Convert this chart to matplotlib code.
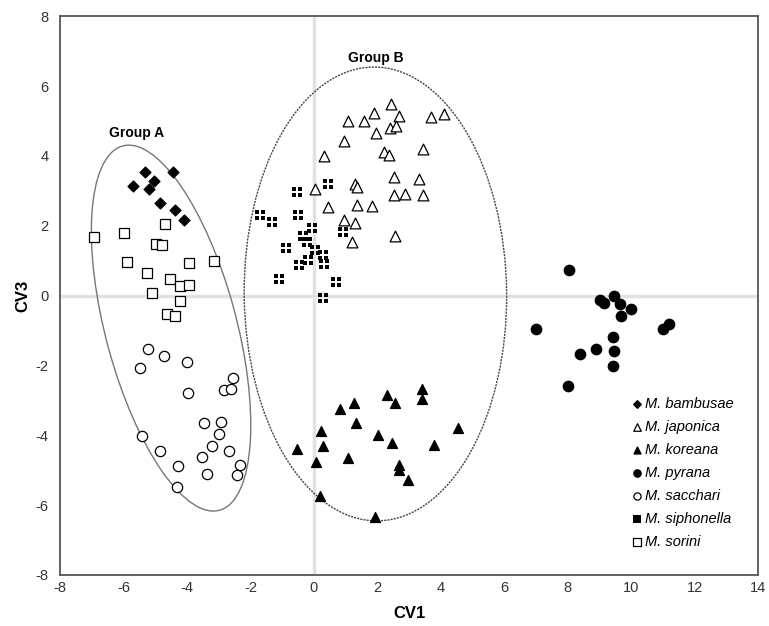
import numpy as np
import matplotlib
matplotlib.use('Agg')
import matplotlib.pyplot as plt
from matplotlib.patches import Ellipse
from matplotlib.path import Path
from matplotlib.transforms import Affine2D

plt.rcParams['font.family'] = ['Liberation Sans', 'DejaVu Sans']
plt.rcParams['axes.unicode_minus'] = False

# canonical scores (CV1, CV3)
bambusae_x = [-5.32, -4.43, -5.69, -5.04, -5.20, -4.85, -4.38, -4.09]
bambusae_y = [3.53, 3.53, 3.15, 3.29, 3.04, 2.66, 2.45, 2.16]

japonica_x = [2.43, 1.89, 2.68, 1.59, 1.06, 3.70, 4.11, 2.41, 2.59, 1.96,
              0.96, 2.21, 2.38, 3.45, 0.31, 2.53, 3.30, 1.28, 1.35, 0.05,
              2.53, 2.87, 3.45, 0.44, 1.35, 1.84, 0.95, 1.28, 1.20, 2.56]
japonica_y = [5.49, 5.22, 5.14, 5.01, 5.01, 5.11, 5.19, 4.79, 4.86, 4.67,
              4.44, 4.12, 4.02, 4.19, 3.99, 3.40, 3.33, 3.19, 3.10, 3.05,
              2.87, 2.91, 2.87, 2.53, 2.60, 2.58, 2.16, 2.09, 1.53, 1.70]

koreana_x = [3.42, 3.42, 2.30, 2.56, 1.25, 0.83, 1.33, 4.53, 0.22, 2.03, 2.46,
             3.77, -0.54, 0.28, 1.09, 0.06, 2.69, 2.69, 2.98, 0.20, 1.93]
koreana_y = [-2.66, -2.95, -2.85, -3.07, -3.07, -3.26, -3.66, -3.78, -3.88, -3.98, -4.22,
             -4.28, -4.38, -4.31, -4.64, -4.76, -4.86, -5.00, -5.27, -5.74, -6.34]

pyrana_x = [8.05, 7.00, 9.13, 9.00, 9.47, 9.63, 10.00, 9.69, 10.99, 11.20,
            9.43, 8.38, 8.88, 9.45, 9.43, 8.00]
pyrana_y = [0.73, -0.96, -0.22, -0.12, -0.01, -0.24, -0.39, -0.58, -0.97, -0.82,
            -1.18, -1.66, -1.54, -1.58, -2.01, -2.59]

sacchari_x = [-5.24, -4.73, -5.48, -4.01, -3.98, -2.54, -2.83, -2.61, -3.45, -2.94, -3.00,
              -3.22, -2.67, -3.53, -5.43, -4.85, -4.28, -3.36, -2.33, -2.41, -4.31]
sacchari_y = [-1.53, -1.72, -2.07, -1.91, -2.80, -2.37, -2.69, -2.66, -3.64, -3.62, -3.97,
              -4.30, -4.46, -4.63, -4.03, -4.44, -4.89, -5.12, -4.86, -5.14, -5.48]

siphonella_x = [0.44, -0.52, -1.70, -1.31, -0.49, -0.07, -0.35, -0.22, -0.88,
                0.05, 0.28, -0.17, -0.46, 0.33, 0.93, -1.11, 0.69, 0.28]
siphonella_y = [3.19, 2.97, 2.30, 2.11, 2.31, 1.93, 1.71, 1.54, 1.35,
                1.30, 1.16, 1.02, 0.87, 0.92, 1.83, 0.47, 0.39, -0.08]

sorini_x = [-4.69, -6.92, -5.98, -4.96, -4.77, -5.90, -3.93, -3.16,
            -5.27, -4.53, -4.22, -3.93, -5.09, -4.22, -4.62, -4.38]
sorini_y = [2.04, 1.67, 1.78, 1.48, 1.45, 0.95, 0.94, 0.99,
            0.66, 0.48, 0.28, 0.30, 0.08, -0.15, -0.54, -0.59]

# group ellipses: centre, width, height, angle (data units)
group_a = ((-4.50, -0.93), 4.106, 10.871, 16.7)
group_b = ((1.939, 0.048), 8.269, 12.996, 0.66)

# siphonella symbol: black square split by a thin white cross
quad = Path.make_compound_path(*[
    Path.unit_rectangle().transformed(Affine2D().scale(0.44).translate(dx, dy))
    for dx in (-0.5, 0.06) for dy in (-0.5, 0.06)])

fig = plt.figure(figsize=(7.69, 6.26), dpi=100)
ax = fig.add_axes([0.078, 0.0815, 0.908, 0.8925])

ax.axvline(0, color='#e2e2e2', lw=2.5, zorder=0)
ax.axhline(0, color='#e2e2e2', lw=2.5, zorder=0)

ax.add_patch(Ellipse(group_a[0], group_a[1], group_a[2], angle=group_a[3],
                     fill=False, ec='#777777', lw=1.0))
ax.add_patch(Ellipse(group_b[0], group_b[1], group_b[2], angle=group_b[3],
                     fill=False, ec='#444444', lw=1.0, ls=(0, (1.5, 0.8))))

k = 'black'
ax.scatter(bambusae_x, bambusae_y, marker='D', s=30, c=k, label='M. bambusae', zorder=3)
ax.scatter(japonica_x, japonica_y, marker='^', s=60, facecolors='white', edgecolors=k,
           linewidths=0.9, label='M. japonica', zorder=3)
ax.scatter(koreana_x, koreana_y, marker='^', s=50, c=k, label='M. koreana', zorder=3)
ax.scatter(pyrana_x, pyrana_y, marker='o', s=55, c=k, label='M. pyrana', zorder=3)
ax.scatter(sacchari_x, sacchari_y, marker='o', s=55, facecolors='white', edgecolors=k,
           linewidths=0.9, label='M. sacchari', zorder=3)
ax.scatter(siphonella_x, siphonella_y, marker=quad, s=60, c=k, linewidths=0,
           label='M. siphonella', zorder=3)
ax.scatter(sorini_x, sorini_y, marker='s', s=55, facecolors='white', edgecolors=k,
           linewidths=0.9, label='M. sorini', zorder=3)

ax.text(-5.6, 4.65, 'Group A', fontsize=10, fontweight='bold', ha='center', va='center')
ax.text(1.95, 6.8, 'Group B', fontsize=10, fontweight='bold', ha='center', va='center')

ax.set_xlim(-8, 14)
ax.set_ylim(-8, 8)
ax.set_xticks(np.arange(-8, 15, 2))
ax.set_yticks(np.arange(-8, 9, 2))
ax.tick_params(length=0, labelsize=10.5, labelcolor='#333333')
ax.tick_params(axis='y', pad=8)
ax.tick_params(axis='x', pad=4)
for s in ax.spines.values():
    s.set_color('#555555')
    s.set_linewidth(1.3)

ax.set_xlabel('CV1', fontsize=12, fontweight='bold', labelpad=8)
ax.set_ylabel('CV3', fontsize=12, fontweight='bold', labelpad=4)

ax.legend(loc='upper left', bbox_to_anchor=(0.805, 0.337), frameon=False,
          prop={'style': 'italic', 'size': 10.5}, handlelength=0.6,
          handletextpad=0.3, labelspacing=0.62, markerscale=0.7,
          borderpad=0.2)

fig.savefig('out.png', dpi=100)
